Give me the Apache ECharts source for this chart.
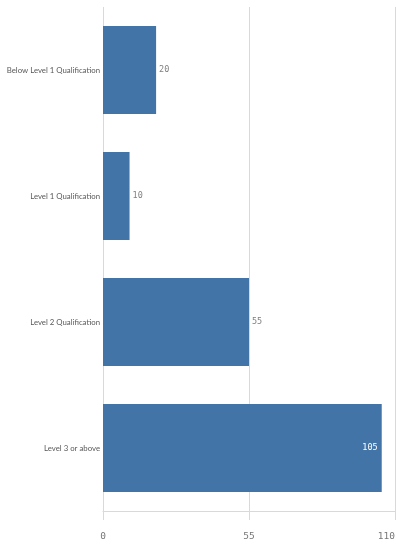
<!DOCTYPE html>
<html>
<head>
<meta charset="utf-8">
<script src="https://cdn.jsdelivr.net/npm/echarts@6/dist/echarts.min.js"></script>
<style>
html,body{margin:0;padding:0;background:#fff;}
#chart{width:396px;height:546px;}
</style>
</head>
<body>
<div id="chart"></div>
<script>
var categories = ["Below Level 1 Qualification", "Level 1 Qualification", "Level 2 Qualification", "Level 3 or above"];
var values = [20, 10, 55, 105];
var tickMin = 0, tickMax = 110, tickStep = 55;

var chart = echarts.init(document.getElementById('chart'));
var data = values.map(function (v, i) {
  var item = { value: v };
  if (i === values.length - 1) {
    item.label = { position: 'insideRight', color: '#ffffff', distance: 4 };
  }
  return item;
});
chart.setOption({
  animation: false,
  backgroundColor: '#ffffff',
  grid: { left: 103, right: 1, top: 7, bottom: 35, containLabel: false, outerBoundsMode: 'none' },
  xAxis: {
    type: 'value', min: tickMin, max: tickMax, interval: tickStep,
    axisLine: { show: true, lineStyle: { color: '#d9d9d9', width: 1 } },
    axisTick: { show: true, length: 9, lineStyle: { color: '#d9d9d9' } },
    splitLine: { show: true, lineStyle: { color: '#d9d9d9', width: 1 } },
    axisLabel: { color: '#777777', fontFamily: 'DejaVu Sans Mono', fontSize: 9.5, margin: 21, alignMaxLabel: 'right', alignMinLabel: 'center' }
  },
  yAxis: {
    type: 'category', data: categories, inverse: true,
    axisLine: { show: false }, axisTick: { show: false },
    axisLabel: { color: '#595959', fontFamily: 'Lato', fontSize: 7.8, margin: 3 }
  },
  series: [{
    type: 'bar', data: data, barCategoryGap: '30%',
    itemStyle: { color: '#4274a8' },
    label: { show: true, position: 'right', distance: 3, color: '#808080', fontFamily: 'DejaVu Sans Mono', fontSize: 8.5 }
  }]
});
</script>
</body>
</html>
